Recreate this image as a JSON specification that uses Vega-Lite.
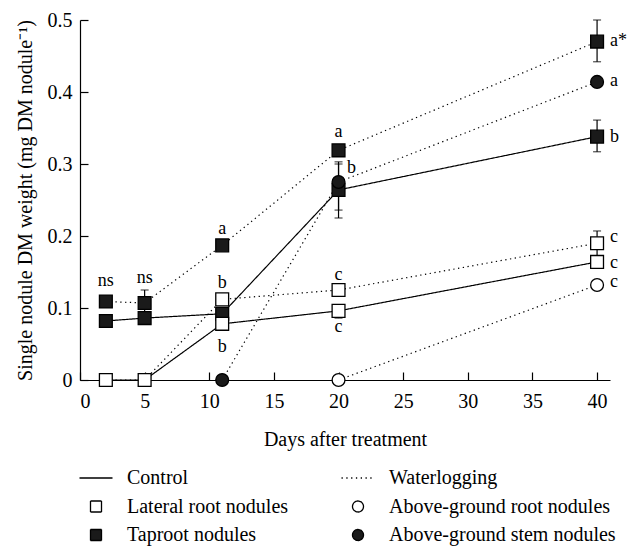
{
  "$schema": "https://vega.github.io/schema/vega-lite/v6.json",
  "width": 530,
  "height": 360,
  "autosize": {"type": "none"},
  "padding": {"left": 80, "top": 20, "right": 34, "bottom": 166},
  "background": "white",
  "datasets": {
    "lines": [
      {"day": 2, "weight": 0.082, "series": "control_tap", "key": "Control"},
      {"day": 5, "weight": 0.086, "series": "control_tap", "key": "Control"},
      {"day": 11, "weight": 0.092, "series": "control_tap", "key": "Control"},
      {"day": 20, "weight": 0.264, "series": "control_tap", "key": "Control"},
      {"day": 40, "weight": 0.338, "series": "control_tap", "key": "Control"},
      {"day": 2, "weight": 0, "series": "control_lat", "key": "Control"},
      {"day": 5, "weight": 0, "series": "control_lat", "key": "Control"},
      {"day": 11, "weight": 0.078, "series": "control_lat", "key": "Control"},
      {"day": 20, "weight": 0.096, "series": "control_lat", "key": "Control"},
      {"day": 40, "weight": 0.164, "series": "control_lat", "key": "Control"},
      {"day": 2, "weight": 0.109, "series": "water_tap", "key": "Waterlogging"},
      {"day": 5, "weight": 0.107, "series": "water_tap", "key": "Waterlogging"},
      {"day": 11, "weight": 0.187, "series": "water_tap", "key": "Waterlogging"},
      {"day": 20, "weight": 0.319, "series": "water_tap", "key": "Waterlogging"},
      {"day": 40, "weight": 0.470, "series": "water_tap", "key": "Waterlogging"},
      {"day": 2, "weight": 0, "series": "water_lat", "key": "Waterlogging"},
      {"day": 5, "weight": 0, "series": "water_lat", "key": "Waterlogging"},
      {"day": 11, "weight": 0.112, "series": "water_lat", "key": "Waterlogging"},
      {"day": 20, "weight": 0.125, "series": "water_lat", "key": "Waterlogging"},
      {"day": 40, "weight": 0.190, "series": "water_lat", "key": "Waterlogging"},
      {"day": 20, "weight": 0, "series": "water_agroot", "key": "Waterlogging"},
      {"day": 40, "weight": 0.132, "series": "water_agroot", "key": "Waterlogging"},
      {"day": 11, "weight": 0, "series": "water_agstem", "key": "Waterlogging"},
      {"day": 20, "weight": 0.275, "series": "water_agstem", "key": "Waterlogging"},
      {"day": 40, "weight": 0.414, "series": "water_agstem", "key": "Waterlogging"}
    ],
    "points": [
      {"day": 2, "weight": 0.082, "key": "Taproot nodules"},
      {"day": 5, "weight": 0.086, "key": "Taproot nodules"},
      {"day": 11, "weight": 0.092, "key": "Taproot nodules"},
      {"day": 20, "weight": 0.264, "key": "Taproot nodules"},
      {"day": 40, "weight": 0.338, "key": "Taproot nodules"},
      {"day": 2, "weight": 0.109, "key": "Taproot nodules"},
      {"day": 5, "weight": 0.107, "key": "Taproot nodules"},
      {"day": 11, "weight": 0.187, "key": "Taproot nodules"},
      {"day": 20, "weight": 0.319, "key": "Taproot nodules"},
      {"day": 40, "weight": 0.470, "key": "Taproot nodules"},
      {"day": 2, "weight": 0, "key": "Lateral root nodules"},
      {"day": 5, "weight": 0, "key": "Lateral root nodules"},
      {"day": 11, "weight": 0.078, "key": "Lateral root nodules"},
      {"day": 20, "weight": 0.096, "key": "Lateral root nodules"},
      {"day": 40, "weight": 0.164, "key": "Lateral root nodules"},
      {"day": 11, "weight": 0.112, "key": "Lateral root nodules"},
      {"day": 20, "weight": 0.125, "key": "Lateral root nodules"},
      {"day": 40, "weight": 0.190, "key": "Lateral root nodules"},
      {"day": 20, "weight": 0, "key": "Above-ground root nodules"},
      {"day": 40, "weight": 0.132, "key": "Above-ground root nodules"},
      {"day": 11, "weight": 0, "key": "Above-ground stem nodules"},
      {"day": 20, "weight": 0.275, "key": "Above-ground stem nodules"},
      {"day": 40, "weight": 0.414, "key": "Above-ground stem nodules"}
    ],
    "errors": [
      {"day": 5, "lo": 0.092, "hi": 0.125},
      {"day": 11, "lo": 0.071, "hi": 0.083},
      {"day": 20, "lo": 0.225, "hi": 0.303},
      {"day": 20, "lo": 0.236, "hi": 0.300},
      {"day": 20, "lo": 0.086, "hi": 0.104},
      {"day": 40, "lo": 0.442, "hi": 0.500},
      {"day": 40, "lo": 0.317, "hi": 0.361},
      {"day": 40, "lo": 0.172, "hi": 0.207}
    ],
    "letters": [
      {"day": 2, "weight": 0.137, "text": "ns", "side": "above"},
      {"day": 5, "weight": 0.141, "text": "ns", "side": "above"},
      {"day": 11, "weight": 0.210, "text": "a", "side": "above"},
      {"day": 11, "weight": 0.135, "text": "b", "side": "above"},
      {"day": 11, "weight": 0.046, "text": "b", "side": "above"},
      {"day": 20, "weight": 0.345, "text": "a", "side": "above"},
      {"day": 21, "weight": 0.294, "text": "b", "side": "above"},
      {"day": 20, "weight": 0.146, "text": "c", "side": "above"},
      {"day": 20, "weight": 0.074, "text": "c", "side": "above"},
      {"day": 40, "weight": 0.471, "text": "a*", "side": "right"},
      {"day": 40, "weight": 0.415, "text": "a", "side": "right"},
      {"day": 40, "weight": 0.338, "text": "b", "side": "right"},
      {"day": 40, "weight": 0.198, "text": "c", "side": "right"},
      {"day": 40, "weight": 0.163, "text": "c", "side": "right"},
      {"day": 40, "weight": 0.136, "text": "c", "side": "right"}
    ]
  },
  "layer": [
    {
      "data": {"name": "lines"},
      "mark": {"type": "line", "color": "black", "strokeWidth": 1.2},
      "encoding": {
        "x": {"field": "day", "type": "quantitative", "scale": {"domain": [0, 41], "nice": false},
              "axis": {"title": "Days after treatment", "values": [0, 5, 10, 15, 20, 25, 30, 35, 40]}},
        "y": {"field": "weight", "type": "quantitative", "scale": {"domain": [0, 0.5], "nice": false},
              "axis": {"title": "Single nodule DM weight (mg DM nodule⁻¹)", "values": [0, 0.1, 0.2, 0.3, 0.4, 0.5], "format": ".1~f"}},
        "detail": {"field": "series"},
        "strokeDash": {
          "field": "key", "type": "nominal",
          "scale": {
            "domain": ["Control", "Lateral root nodules", "Taproot nodules", "Waterlogging", "Above-ground root nodules", "Above-ground stem nodules"],
            "range": [[1, 0], [1, 0], [1, 0], [1.3, 3.5], [1, 0], [1, 0]]
          },
          "legend": {"title": null}
        }
      }
    },
    {
      "data": {"name": "errors"},
      "mark": {"type": "rule", "color": "black", "strokeWidth": 1.2},
      "encoding": {
        "x": {"field": "day", "type": "quantitative"},
        "y": {"field": "lo", "type": "quantitative"},
        "y2": {"field": "hi"}
      }
    },
    {
      "data": {"name": "errors"},
      "mark": {"type": "tick", "orient": "horizontal", "color": "black", "size": 8, "thickness": 1.2},
      "encoding": {
        "x": {"field": "day", "type": "quantitative"},
        "y": {"field": "lo", "type": "quantitative"}
      }
    },
    {
      "data": {"name": "errors"},
      "mark": {"type": "tick", "orient": "horizontal", "color": "black", "size": 8, "thickness": 1.2},
      "encoding": {
        "x": {"field": "day", "type": "quantitative"},
        "y": {"field": "hi", "type": "quantitative"}
      }
    },
    {
      "data": {"name": "points"},
      "mark": {"type": "point", "filled": true, "stroke": "black", "strokeWidth": 1.3, "opacity": 1, "size": 165},
      "encoding": {
        "x": {"field": "day", "type": "quantitative"},
        "y": {"field": "weight", "type": "quantitative"},
        "shape": {
          "field": "key", "type": "nominal",
          "scale": {
            "domain": ["Control", "Lateral root nodules", "Taproot nodules", "Waterlogging", "Above-ground root nodules", "Above-ground stem nodules"],
            "range": ["M-3,0L3,0", "square", "square", "M-3,0L3,0", "circle", "circle"]
          },
          "legend": {"title": null}
        },
        "fill": {
          "field": "key", "type": "nominal",
          "scale": {
            "domain": ["Control", "Lateral root nodules", "Taproot nodules", "Waterlogging", "Above-ground root nodules", "Above-ground stem nodules"],
            "range": ["black", "white", "#1a1a1a", "black", "white", "#1a1a1a"]
          },
          "legend": {"title": null}
        }
      }
    },
    {
      "data": {"name": "letters"},
      "transform": [{"filter": "datum.side == 'above'"}],
      "mark": {"type": "text", "font": "Liberation Serif", "fontSize": 18, "align": "center", "baseline": "middle", "color": "black"},
      "encoding": {
        "x": {"field": "day", "type": "quantitative"},
        "y": {"field": "weight", "type": "quantitative"},
        "text": {"field": "text"}
      }
    },
    {
      "data": {"name": "letters"},
      "transform": [{"filter": "datum.side == 'right'"}],
      "mark": {"type": "text", "font": "Liberation Serif", "fontSize": 18, "align": "left", "baseline": "middle", "dx": 13, "color": "black"},
      "encoding": {
        "x": {"field": "day", "type": "quantitative"},
        "y": {"field": "weight", "type": "quantitative"},
        "text": {"field": "text"}
      }
    }
  ],
  "config": {
    "view": {"stroke": null},
    "font": "Liberation Serif",
    "axis": {
      "grid": false,
      "domainColor": "black",
      "domainWidth": 1.2,
      "tickColor": "black",
      "tickWidth": 1.2,
      "tickSize": -8,
      "labelFont": "Liberation Serif",
      "labelFontSize": 20,
      "labelColor": "black",
      "titleFont": "Liberation Serif",
      "titleFontSize": 20,
      "titleFontWeight": "normal",
      "titleColor": "black"
    },
    "axisX": {"labelPadding": 19, "titlePadding": 18},
    "axisY": {"labelPadding": 16, "titlePadding": 12},
    "legend": {
      "orient": "none",
      "legendX": 6,
      "legendY": 448,
      "columns": 2,
      "columnPadding": 49,
      "rowPadding": 8.5,
      "symbolSize": 121,
      "symbolStrokeWidth": 1.3,
      "labelFont": "Liberation Serif",
      "labelFontSize": 20,
      "labelColor": "black",
      "labelLimit": 400,
      "labelOffset": 21,
      "padding": 0
    }
  }
}
